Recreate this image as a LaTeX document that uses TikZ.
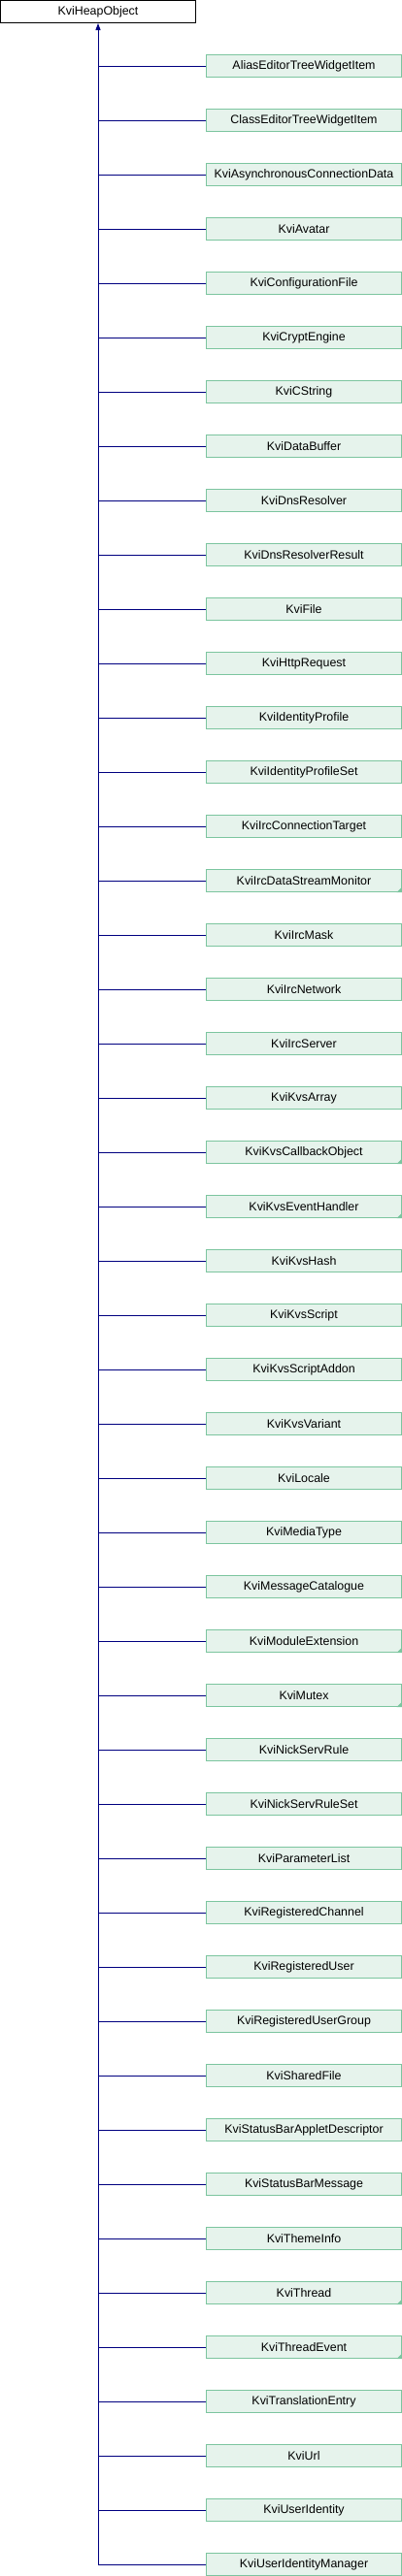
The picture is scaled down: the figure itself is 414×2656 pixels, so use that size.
\documentclass[tikz,border=0pt]{standalone}
\usepackage{fontspec}
\setmainfont{Liberation Sans}
\usetikzlibrary{arrows.meta}
\definecolor{boxfill}{HTML}{E6F3EC}
\definecolor{boxline}{HTML}{7CC59F}
\definecolor{linkcol}{HTML}{000080}
\begin{document}
\begin{tikzpicture}[x=1pt,y=1pt,
  every node/.style={font=\fontsize{12.4}{14}\selectfont},
  basebox/.style={draw=black,fill=white,line width=1pt,minimum width=201pt,minimum height=23pt,inner sep=0pt,anchor=center},
  childbox/.style={draw=boxline,fill=boxfill,line width=1pt,minimum width=201pt,minimum height=23pt,inner sep=0pt,anchor=center},
  link/.style={draw=linkcol,line width=1pt}]
\useasboundingbox (0,0) rectangle (414,-2656);
\node[basebox] (base) at (101,-12) {KviHeapObject};
\foreach \n [count=\i] in {AliasEditorTreeWidgetItem,ClassEditorTreeWidgetItem,KviAsynchronousConnectionData,KviAvatar,KviConfigurationFile,KviCryptEngine,KviCString,KviDataBuffer,KviDnsResolver,KviDnsResolverResult,KviFile,KviHttpRequest,KviIdentityProfile,KviIdentityProfileSet,KviIrcConnectionTarget,KviIrcDataStreamMonitor,KviIrcMask,KviIrcNetwork,KviIrcServer,KviKvsArray,KviKvsCallbackObject,KviKvsEventHandler,KviKvsHash,KviKvsScript,KviKvsScriptAddon,KviKvsVariant,KviLocale,KviMediaType,KviMessageCatalogue,KviModuleExtension,KviMutex,KviNickServRule,KviNickServRuleSet,KviParameterList,KviRegisteredChannel,KviRegisteredUser,KviRegisteredUserGroup,KviSharedFile,KviStatusBarAppletDescriptor,KviStatusBarMessage,KviThemeInfo,KviThread,KviThreadEvent,KviTranslationEntry,KviUrl,KviUserIdentity,KviUserIdentityManager}{
  \node[childbox] (c\i) at (313,{-(56*\i+12)}) {\n};
}
\foreach \i in {16,21,22,30,31,42,43}{
  \fill[boxline] (c\i.south east) -- ++(-5.5,0) -- ++(5.5,5.5) -- cycle;
}
\foreach \i in {1,...,47}{
  \draw[link] (c\i.west) -- (c\i.west -| base.south);
}
\draw[link,{Triangle[length=7pt,width=5pt]}-] (base.south) -- (base.south |- c47.west);
\end{tikzpicture}
\end{document}
